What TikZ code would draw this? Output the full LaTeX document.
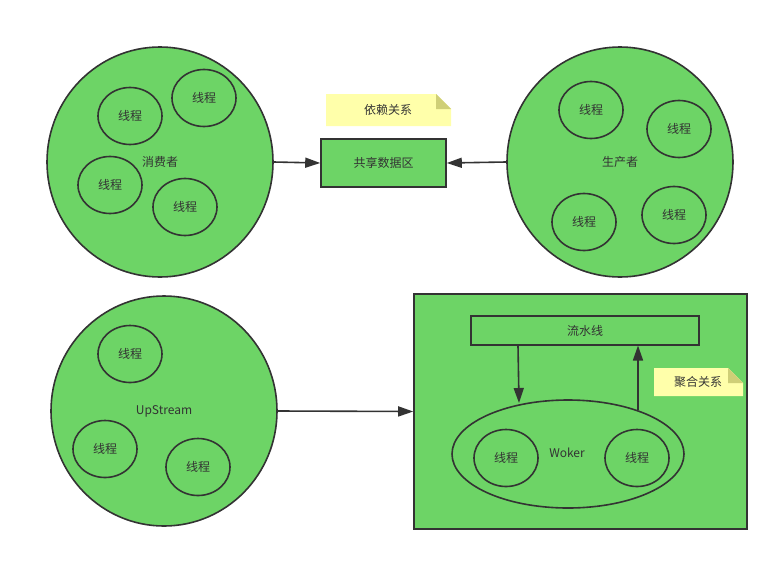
\documentclass[tikz,border=0pt]{standalone}
\usepackage{fontspec}
\setmainfont{Noto Sans CJK SC}
\usetikzlibrary{shapes.geometric,arrows.meta}
\definecolor{gfill}{HTML}{6DD466}
\definecolor{stroke}{HTML}{333333}
\definecolor{notey}{HTML}{FFFFAA}
\definecolor{notefold}{HTML}{CFCF77}
\tikzset{
  big/.style={ellipse,draw=stroke,fill=gfill,line width=1.6pt,inner sep=0pt},
  thread/.style={ellipse,draw=stroke,line width=1.6pt,minimum width=64pt,minimum height=57pt,inner sep=0pt,font=\fontsize{12}{14}\selectfont,text=stroke},
  lbl/.style={font=\fontsize{12}{14}\selectfont,text=stroke,inner sep=0pt},
  boxn/.style={rectangle,draw=stroke,fill=gfill,line width=1.6pt,inner sep=0pt,font=\fontsize{12}{14}\selectfont,text=stroke},
  conn/.style={draw=stroke,line width=1.6pt,-{Triangle[length=15pt,width=10pt]}},
  notetext/.style={font=\fontsize{12}{14}\selectfont,text=stroke,inner sep=0pt}
}
\begin{document}
\begin{tikzpicture}[x=1pt,y=-1pt]
\useasboundingbox[fill=white] (0,0) rectangle (779,560);
% consumer
\node[big,minimum width=226pt,minimum height=230pt] (cons) at (160,162) {};
\node[lbl] (consl) at (160,162) {消费者};
\node[thread] (c1) at (130,116) {线程};
\node[thread] (c2) at (204,98) {线程};
\node[thread] (c3) at (110,185) {线程};
\node[thread] (c4) at (185,207) {线程};
% producer
\node[big,minimum width=226pt,minimum height=230pt] (prod) at (620,162) {};
\node[lbl] (prodl) at (620,162) {生产者};
\node[thread] (p1) at (591,110) {线程};
\node[thread] (p2) at (679,129) {线程};
\node[thread] (p3) at (584,222) {线程};
\node[thread] (p4) at (674,215) {线程};
% shared box
\node[boxn,minimum width=125pt,minimum height=48pt] (share) at (383.5,163) {共享数据区};
% note 1
\fill[notey] (326,94) -- (436,94) -- (451,109) -- (451,126) -- (326,126) -- cycle;
\fill[notefold] (436,94) -- (451,109) -- (436,109) -- cycle;
\node[notetext] (note1) at (388,110) {依赖关系};
\draw[conn] (cons.east) -- (share.west);
\draw[conn] (prod.west) -- (share.east);
% upstream
\node[big,minimum width=226pt,minimum height=230pt] (up) at (164,411) {};
\node[lbl] (upl) at (164,411) {UpStream};
\node[thread] (u1) at (130,354) {线程};
\node[thread] (u2) at (105,449) {线程};
\node[thread] (u3) at (198,467) {线程};
% big box
\node[rectangle,draw=stroke,fill=gfill,line width=1.6pt,minimum width=333pt,minimum height=235pt,inner sep=0pt] (frame) at (580.5,411.5) {};
\node[boxn,minimum width=228pt,minimum height=29pt] (pipe) at (585,330.5) {流水线};
\node[ellipse,draw=stroke,line width=1.6pt,minimum width=232pt,minimum height=108pt,inner sep=0pt] (worker) at (568,454) {};
\node[lbl] (workl) at (567,453) {Woker};
\node[thread] (w1) at (506,458) {线程};
\node[thread] (w2) at (637,458) {线程};
% note 2
\fill[notey] (654,368) -- (728,368) -- (743,383) -- (743,396) -- (654,396) -- cycle;
\fill[notefold] (728,368) -- (743,383) -- (728,383) -- cycle;
\node[notetext] (note2) at (698,382) {聚合关系};
% connectors
\coordinate (pd) at (518,345.5);
\coordinate (wt) at (519,403);
\coordinate (wu) at (638,410);
\coordinate (pu) at (638,345.5);
\draw[conn] (pd) -- (wt);
\draw[conn] (wu) -- (pu);
\draw[conn] (up.east) -- (frame.west);
\end{tikzpicture}
\end{document}
